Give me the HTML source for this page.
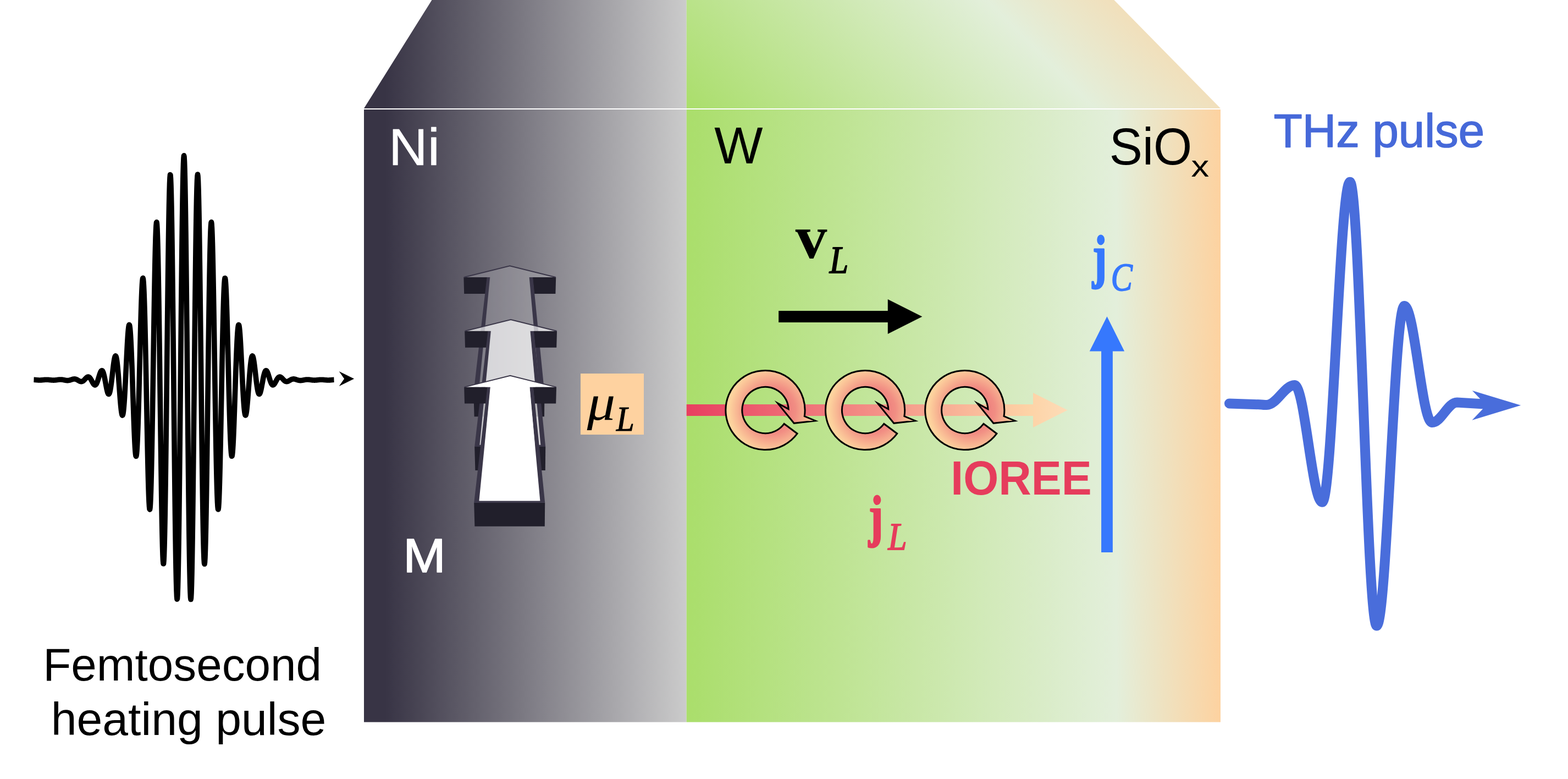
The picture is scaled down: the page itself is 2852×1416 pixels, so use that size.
<!DOCTYPE html>
<html lang="en">
<head>
<meta charset="utf-8">
<title>Femtosecond heating pulse to THz pulse schematic</title>
<style>
html,body{margin:0;padding:0;background:#fff;}
body{width:2852px;height:1416px;}
svg{display:block;}
text{white-space:pre;}
.sans{font-family:"Liberation Sans",sans-serif;}
.serif{font-family:"Liberation Serif",serif;}
</style>
</head>
<body>
<svg width="2852" height="1416" viewBox="0 0 2852 1416">
<defs>
<linearGradient id="gNi" gradientUnits="userSpaceOnUse" x1="662" y1="0" x2="1248.7" y2="0">
<stop offset="0" stop-color="#383445"/>
<stop offset="0.065" stop-color="#383445"/>
<stop offset="1" stop-color="#cbcbcb"/>
</linearGradient>
<linearGradient id="gW" gradientUnits="userSpaceOnUse" x1="1248.7" y1="0" x2="2220" y2="0">
<stop offset="0" stop-color="#aade6b"/>
<stop offset="0.805" stop-color="#e3efdb"/>
<stop offset="1" stop-color="#fdd2a0"/>
</linearGradient>
<linearGradient id="gWtop" gradientUnits="userSpaceOnUse" x1="1248.7" y1="197" x2="1832.8" y2="-387.1">
<stop offset="0" stop-color="#aade6b"/>
<stop offset="0.636" stop-color="#e3efdb"/>
<stop offset="1" stop-color="#fdd2a0"/>
</linearGradient>
<linearGradient id="gJL" gradientUnits="userSpaceOnUse" x1="1248.7" y1="0" x2="1941" y2="0">
<stop offset="0" stop-color="#e83e60"/>
<stop offset="0.9" stop-color="#fdd3a6"/>
<stop offset="1" stop-color="#fddcb8"/>
</linearGradient>
<radialGradient id="gRing" gradientUnits="userSpaceOnUse" cx="12" cy="0" r="78">
<stop offset="0" stop-color="#ea6a76"/>
<stop offset="0.55" stop-color="#f18d83"/>
<stop offset="1" stop-color="#fdd49e"/>
</radialGradient>
</defs>
<rect x="0" y="0" width="2852" height="1416" fill="#ffffff"/>

<g id="box">
<polygon points="785.5,0 1248.7,0 1248.7,197 662,197" fill="url(#gNi)"/>
<polygon points="1248.7,0 2026.3,0 2220,197 1248.7,197" fill="url(#gWtop)"/>
<rect x="662" y="197" width="586.7" height="1115.6" fill="url(#gNi)"/>
<rect x="1248.7" y="197" width="971.3" height="1115.6" fill="url(#gW)"/>
<rect x="662" y="197" width="1558" height="2" fill="#ffffff"/>
</g>
<g id="fs-pulse">
<path d="M61.5,690.28 L62,690.3 L62.5,690.33 L63,690.36 L63.5,690.4 L64,690.44 L64.5,690.48 L65,690.52 L65.5,690.57 L66,690.61 L66.5,690.66 L67,690.7 L67.5,690.75 L68,690.79 L68.5,690.83 L69,690.86 L69.5,690.89 L70,690.92 L70.5,690.94 L71,690.96 L71.5,690.97 L72,690.97 L72.5,690.97 L73,690.96 L73.5,690.95 L74,690.93 L74.5,690.91 L75,690.88 L75.5,690.85 L76,690.81 L76.5,690.77 L77,690.73 L77.5,690.68 L78,690.63 L78.5,690.59 L79,690.54 L79.5,690.49 L80,690.44 L80.5,690.4 L81,690.36 L81.5,690.32 L82,690.29 L82.5,690.26 L83,690.23 L83.5,690.21 L84,690.2 L84.5,690.19 L85,690.19 L85.5,690.2 L86,690.21 L86.5,690.23 L87,690.26 L87.5,690.29 L88,690.32 L88.5,690.36 L89,690.41 L89.5,690.46 L90,690.51 L90.5,690.56 L91,690.62 L91.5,690.67 L92,690.73 L92.5,690.78 L93,690.83 L93.5,690.88 L94,690.92 L94.5,690.97 L95,691 L95.5,691.03 L96,691.05 L96.5,691.07 L97,691.08 L97.5,691.08 L98,691.08 L98.5,691.06 L99,691.04 L99.5,691.02 L100,690.98 L100.5,690.94 L101,690.89 L101.5,690.84 L102,690.78 L102.5,690.71 L103,690.65 L103.5,690.58 L104,690.51 L104.5,690.44 L105,690.37 L105.5,690.3 L106,690.24 L106.5,690.18 L107,690.12 L107.5,690.07 L108,690.03 L108.5,690 L109,689.97 L109.5,689.95 L110,689.95 L110.5,689.95 L111,689.97 L111.5,689.99 L112,690.03 L112.5,690.07 L113,690.13 L113.5,690.19 L114,690.27 L114.5,690.35 L115,690.44 L115.5,690.53 L116,690.63 L116.5,690.73 L117,690.83 L117.5,690.94 L118,691.04 L118.5,691.14 L119,691.23 L119.5,691.31 L120,691.39 L120.5,691.46 L121,691.52 L121.5,691.56 L122,691.59 L122.5,691.6 L123,691.6 L123.5,691.58 L124,691.55 L124.5,691.5 L125,691.43 L125.5,691.35 L126,691.25 L126.5,691.13 L127,691 L127.5,690.86 L128,690.71 L128.5,690.55 L129,690.38 L129.5,690.21 L130,690.04 L130.5,689.87 L131,689.71 L131.5,689.55 L132,689.4 L132.5,689.27 L133,689.15 L133.5,689.05 L134,688.97 L134.5,688.92 L135,688.89 L135.5,688.88 L136,688.91 L136.5,688.96 L137,689.05 L137.5,689.16 L138,689.3 L138.5,689.47 L139,689.67 L139.5,689.89 L140,690.13 L140.5,690.39 L141,690.67 L141.5,690.96 L142,691.26 L142.5,691.56 L143,691.85 L143.5,692.14 L144,692.42 L144.5,692.68 L145,692.92 L145.5,693.13 L146,693.31 L146.5,693.45 L147,693.55 L147.5,693.6 L148,693.61 L148.5,693.57 L149,693.47 L149.5,693.32 L150,693.12 L150.5,692.86 L151,692.55 L151.5,692.2 L152,691.8 L152.5,691.36 L153,690.89 L153.5,690.39 L154,689.86 L154.5,689.33 L155,688.78 L155.5,688.24 L156,687.72 L156.5,687.21 L157,686.74 L157.5,686.3 L158,685.92 L158.5,685.59 L159,685.34 L159.5,685.15 L160,685.05 L160.5,685.03 L161,685.1 L161.5,685.27 L162,685.53 L162.5,685.88 L163,686.33 L163.5,686.87 L164,687.49 L164.5,688.19 L165,688.96 L165.5,689.79 L166,690.67 L166.5,691.59 L167,692.53 L167.5,693.48 L168,694.42 L168.5,695.33 L169,696.2 L169.5,697.02 L170,697.76 L170.5,698.42 L171,698.96 L171.5,699.39 L172,699.69 L172.5,699.84 L173,699.84 L173.5,699.68 L174,699.36 L174.5,698.87 L175,698.22 L175.5,697.4 L176,696.43 L176.5,695.31 L177,694.06 L177.5,692.68 L178,691.21 L178.5,689.65 L179,688.03 L179.5,686.38 L180,684.71 L180.5,683.07 L181,681.47 L181.5,679.94 L182,678.52 L182.5,677.22 L183,676.09 L183.5,675.13 L184,674.39 L184.5,673.87 L185,673.59 L185.5,673.58 L186,673.83 L186.5,674.37 L187,675.18 L187.5,676.28 L188,677.64 L188.5,679.26 L189,681.13 L189.5,683.22 L190,685.5 L190.5,687.95 L191,690.52 L191.5,693.2 L192,695.92 L192.5,698.65 L193,701.34 L193.5,703.95 L194,706.43 L194.5,708.73 L195,710.8 L195.5,712.61 L196,714.11 L196.5,715.27 L197,716.05 L197.5,716.42 L198,716.36 L198.5,715.86 L199,714.91 L199.5,713.5 L200,711.64 L200.5,709.35 L201,706.64 L201.5,703.55 L202,700.11 L202.5,696.36 L203,692.36 L203.5,688.17 L204,683.84 L204.5,679.44 L205,675.04 L205.5,670.72 L206,666.55 L206.5,662.6 L207,658.95 L207.5,655.67 L208,652.82 L208.5,650.48 L209,648.69 L209.5,647.5 L210,646.96 L210.5,647.11 L211,647.95 L211.5,649.5 L212,651.76 L212.5,654.72 L213,658.36 L213.5,662.62 L214,667.48 L214.5,672.86 L215,678.7 L215.5,684.92 L216,691.42 L216.5,698.12 L217,704.91 L217.5,711.69 L218,718.34 L218.5,724.77 L219,730.84 L219.5,736.46 L220,741.51 L220.5,745.9 L221,749.52 L221.5,752.29 L222,754.13 L222.5,754.98 L223,754.79 L223.5,753.53 L224,751.17 L224.5,747.72 L225,743.19 L225.5,737.62 L226,731.07 L226.5,723.6 L227,715.32 L227.5,706.32 L228,696.73 L228.5,686.69 L229,676.35 L229.5,665.88 L230,655.44 L230.5,645.21 L231,635.37 L231.5,626.09 L232,617.55 L232.5,609.91 L233,603.34 L233.5,597.98 L234,593.96 L234.5,591.38 L235,590.35 L235.5,590.91 L236,593.13 L236.5,596.99 L237,602.5 L237.5,609.61 L238,618.25 L238.5,628.31 L239,639.66 L239.5,652.16 L240,665.62 L240.5,679.83 L241,694.6 L241.5,709.68 L242,724.85 L242.5,739.86 L243,754.46 L243.5,768.39 L244,781.42 L244.5,793.3 L245,803.82 L245.5,812.77 L246,819.96 L246.5,825.23 L247,828.45 L247.5,829.51 L248,828.34 L248.5,824.91 L249,819.21 L249.5,811.29 L250,801.23 L250.5,789.12 L251,775.13 L251.5,759.43 L252,742.24 L252.5,723.81 L253,704.41 L253.5,684.33 L254,663.88 L254.5,643.39 L255,623.19 L255.5,603.62 L256,585.01 L256.5,567.68 L257,551.95 L257.5,538.11 L258,526.42 L258.5,517.12 L259,510.41 L259.5,506.46 L260,505.39 L260.5,507.29 L261,512.18 L261.5,520.04 L262,530.81 L262.5,544.38 L263,560.58 L263.5,579.2 L264,599.99 L264.5,622.66 L265,646.87 L265.5,672.27 L266,698.46 L266.5,725.03 L267,751.56 L267.5,777.62 L268,802.78 L268.5,826.61 L269,848.7 L269.5,868.66 L270,886.13 L270.5,900.78 L271,912.32 L271.5,920.5 L272,925.14 L272.5,926.09 L273,923.28 L273.5,916.68 L274,906.34 L274.5,892.36 L275,874.9 L275.5,854.18 L276,830.5 L276.5,804.17 L277,775.59 L277.5,745.17 L278,713.39 L278.5,680.73 L279,647.7 L279.5,614.84 L280,582.68 L280.5,551.75 L281,522.57 L281.5,495.64 L282,471.42 L282.5,450.35 L283,432.81 L283.5,419.14 L284,409.62 L284.5,404.46 L285,403.81 L285.5,407.73 L286,416.24 L286.5,429.25 L287,446.62 L287.5,468.13 L288,493.48 L288.5,522.32 L289,554.22 L289.5,588.72 L290,625.29 L290.5,663.37 L291,702.35 L291.5,741.64 L292,780.58 L292.5,818.56 L293,854.96 L293.5,889.15 L294,920.58 L294.5,948.69 L295,973.01 L295.5,993.09 L296,1008.57 L296.5,1019.14 L297,1024.59 L297.5,1024.76 L298,1019.61 L298.5,1009.15 L299,993.51 L299.5,972.88 L300,947.55 L300.5,917.87 L301,884.28 L301.5,847.28 L302,807.44 L302.5,765.37 L303,721.72 L303.5,677.19 L304,632.48 L304.5,588.3 L305,545.38 L305.5,504.42 L306,466.07 L306.5,431 L307,399.77 L307.5,372.93 L308,350.95 L308.5,334.2 L309,322.99 L309.5,317.56 L310,318.02 L310.5,324.41 L311,336.67 L311.5,354.65 L312,378.08 L312.5,406.63 L313,439.87 L313.5,477.31 L314,518.36 L314.5,562.38 L315,608.7 L315.5,656.57 L316,705.24 L316.5,753.93 L317,801.87 L317.5,848.28 L318,892.41 L318.5,933.54 L319,971 L319.5,1004.18 L320,1032.51 L320.5,1055.53 L321,1072.85 L321.5,1084.17 L322,1089.29 L322.5,1088.09 L323,1080.59 L323.5,1066.86 L324,1047.13 L324.5,1021.68 L325,990.9 L325.5,955.28 L326,915.36 L326.5,871.79 L327,825.24 L327.5,776.45 L328,726.21 L328.5,675.31 L329,624.56 L329.5,574.78 L330,526.76 L330.5,481.28 L331,439.07 L331.5,400.79 L332,367.08 L332.5,338.47 L333,315.42 L333.5,298.3 L334,287.4 L334.5,282.88 L335,284.82 L335.5,293.18 L336,307.84 L336.5,328.56 L337,355 L337.5,386.73 L338,423.25 L338.5,463.97 L339,508.23 L339.5,555.32 L340,604.49 L340.5,654.95 L341,705.88 L341.5,756.49 L342,805.95 L342.5,853.48 L343,898.34 L343.5,939.79 L344,977.2 L344.5,1009.98 L345,1037.61 L345.5,1059.68 L346,1075.83 L346.5,1085.84 L347,1089.57 L347.5,1086.97 L348,1078.12 L348.5,1063.17 L349,1042.38 L349.5,1016.12 L350,984.82 L350.5,949 L351,909.26 L351.5,866.25 L352,820.66 L352.5,773.24 L353,724.76 L353.5,675.98 L354,627.7 L354.5,580.67 L355,535.65 L355.5,493.33 L356,454.38 L356.5,419.39 L357,388.91 L357.5,363.38 L358,343.19 L358.5,328.62 L359,319.87 L359.5,317.03 L360,320.12 L360.5,329.04 L361,343.6 L361.5,363.53 L362,388.48 L362.5,418.01 L363,451.62 L363.5,488.73 L364,528.72 L364.5,570.95 L365,614.7 L365.5,659.29 L366,703.98 L366.5,748.06 L367,790.84 L367.5,831.65 L368,869.86 L368.5,904.87 L369,936.17 L369.5,963.29 L370,985.84 L370.5,1003.51 L371,1016.06 L371.5,1023.34 L372,1025.29 L372.5,1021.94 L373,1013.4 L373.5,999.85 L374,981.57 L374.5,958.9 L375,932.25 L375.5,902.09 L376,868.93 L376.5,833.35 L377,795.93 L377.5,757.29 L378,718.07 L378.5,678.89 L379,640.37 L379.5,603.13 L380,567.74 L380.5,534.74 L381,504.62 L381.5,477.82 L382,454.74 L382.5,435.69 L383,420.91 L383.5,410.59 L384,404.83 L384.5,403.65 L385,407.03 L385.5,414.82 L386,426.86 L386.5,442.89 L387,462.59 L387.5,485.6 L388,511.5 L388.5,539.84 L389,570.13 L389.5,601.87 L390,634.51 L390.5,667.53 L391,700.4 L391.5,732.6 L392,763.61 L392.5,792.98 L393,820.26 L393.5,845.05 L394,866.99 L394.5,885.78 L395,901.18 L395.5,912.99 L396,921.1 L396.5,925.42 L397,925.97 L397.5,922.79 L398,916.01 L398.5,905.79 L399,892.35 L399.5,875.97 L400,856.96 L400.5,835.68 L401,812.49 L401.5,787.82 L402,762.06 L402.5,735.67 L403,709.06 L403.5,682.67 L404,656.91 L404.5,632.18 L405,608.85 L405.5,587.27 L406,567.75 L406.5,550.55 L407,535.91 L407.5,524 L408,514.97 L408.5,508.89 L409,505.79 L409.5,505.68 L410,508.49 L410.5,514.11 L411,522.4 L411.5,533.16 L412,546.17 L412.5,561.18 L413,577.91 L413.5,596.04 L414,615.27 L414.5,635.26 L415,655.67 L415.5,676.17 L416,696.44 L416.5,716.15 L417,735 L417.5,752.72 L418,769.04 L418.5,783.74 L419,796.62 L419.5,807.52 L420,816.31 L420.5,822.9 L421,827.24 L421.5,829.31 L422,829.14 L422.5,826.77 L423,822.31 L423.5,815.87 L424,807.6 L424.5,797.69 L425,786.32 L425.5,773.72 L426,760.12 L426.5,745.76 L427,730.89 L427.5,715.76 L428,700.61 L428.5,685.69 L429,671.22 L429.5,657.44 L430,644.53 L430.5,632.7 L431,622.11 L431.5,612.89 L432,605.16 L432.5,599 L433,594.47 L433.5,591.6 L434,590.38 L434.5,590.78 L435,592.75 L435.5,596.21 L436,601.05 L436.5,607.15 L437,614.38 L437.5,622.58 L438,631.58 L438.5,641.22 L439,651.32 L439.5,661.69 L440,672.17 L440.5,682.58 L441,692.76 L441.5,702.54 L442,711.79 L442.5,720.38 L443,728.19 L443.5,735.11 L444,741.08 L444.5,746.03 L445,749.92 L445.5,752.71 L446,754.42 L446.5,755.03 L447,754.59 L447.5,753.14 L448,750.73 L448.5,747.44 L449,743.35 L449.5,738.56 L450,733.15 L450.5,727.25 L451,720.95 L451.5,714.37 L452,707.63 L452.5,700.83 L453,694.08 L453.5,687.49 L454,681.15 L454.5,675.15 L455,669.57 L455.5,664.5 L456,659.99 L456.5,656.1 L457,652.86 L457.5,650.32 L458,648.48 L458.5,647.36 L459,646.94 L459.5,647.21 L460,648.14 L460.5,649.69 L461,651.82 L461.5,654.47 L462,657.59 L462.5,661.1 L463,664.94 L463.5,669.03 L464,673.3 L464.5,677.67 L465,682.08 L465.5,686.45 L466,690.71 L466.5,694.79 L467,698.64 L467.5,702.21 L468,705.45 L468.5,708.31 L469,710.78 L469.5,712.81 L470,714.4 L470.5,715.54 L471,716.22 L471.5,716.45 L472,716.25 L472.5,715.63 L473,714.62 L473.5,713.25 L474,711.56 L474.5,709.59 L475,707.37 L475.5,704.96 L476,702.4 L476.5,699.73 L477,697.01 L477.5,694.28 L478,691.58 L478.5,688.96 L479,686.46 L479.5,684.11 L480,681.94 L480.5,679.98 L481,678.26 L481.5,676.79 L482,675.59 L482.5,674.66 L483,674.01 L483.5,673.65 L484,673.55 L484.5,673.73 L485,674.15 L485.5,674.81 L486,675.68 L486.5,676.75 L487,677.98 L487.5,679.36 L488,680.85 L488.5,682.42 L489,684.05 L489.5,685.71 L490,687.37 L490.5,689.01 L491,690.59 L491.5,692.1 L492,693.52 L492.5,694.82 L493,696 L493.5,697.03 L494,697.91 L494.5,698.63 L495,699.19 L495.5,699.57 L496,699.8 L496.5,699.86 L497,699.77 L497.5,699.53 L498,699.15 L498.5,698.65 L499,698.04 L499.5,697.33 L500,696.54 L500.5,695.69 L501,694.78 L501.5,693.85 L502,692.91 L502.5,691.96 L503,691.04 L503.5,690.14 L504,689.29 L504.5,688.49 L505,687.76 L505.5,687.11 L506,686.53 L506.5,686.05 L507,685.66 L507.5,685.36 L508,685.16 L508.5,685.05 L509,685.03 L509.5,685.1 L510,685.25 L510.5,685.48 L511,685.78 L511.5,686.14 L512,686.56 L512.5,687.02 L513,687.51 L513.5,688.03 L514,688.57 L514.5,689.11 L515,689.65 L515.5,690.18 L516,690.69 L516.5,691.18 L517,691.63 L517.5,692.05 L518,692.42 L518.5,692.74 L519,693.02 L519.5,693.24 L520,693.42 L520.5,693.53 L521,693.6 L521.5,693.61 L522,693.58 L522.5,693.5 L523,693.37 L523.5,693.21 L524,693.01 L524.5,692.78 L525,692.53 L525.5,692.26 L526,691.97 L526.5,691.68 L527,691.38 L527.5,691.08 L528,690.79 L528.5,690.5 L529,690.23 L529.5,689.98 L530,689.75 L530.5,689.55 L531,689.37 L531.5,689.21 L532,689.09 L532.5,688.99 L533,688.93 L533.5,688.89 L534,688.88 L534.5,688.9 L535,688.95 L535.5,689.02 L536,689.11 L536.5,689.22 L537,689.35 L537.5,689.49 L538,689.65 L538.5,689.81 L539,689.97 L539.5,690.15 L540,690.32 L540.5,690.48 L541,690.65 L541.5,690.8 L542,690.95 L542.5,691.08 L543,691.2 L543.5,691.31 L544,691.4 L544.5,691.47 L545,691.53 L545.5,691.57 L546,691.6 L546.5,691.61 L547,691.6 L547.5,691.57 L548,691.53 L548.5,691.48 L549,691.42 L549.5,691.35 L550,691.26 L550.5,691.17 L551,691.08 L551.5,690.98 L552,690.88 L552.5,690.77 L553,690.67 L553.5,690.57 L554,690.47 L554.5,690.38 L555,690.3 L555.5,690.22 L556,690.15 L556.5,690.09 L557,690.04 L557.5,690 L558,689.97 L558.5,689.96 L559,689.95 L559.5,689.95 L560,689.96 L560.5,689.99 L561,690.02 L561.5,690.06 L562,690.1 L562.5,690.15 L563,690.21 L563.5,690.28 L564,690.34 L564.5,690.41 L565,690.48 L565.5,690.55 L566,690.62 L566.5,690.69 L567,690.75 L567.5,690.81 L568,690.87 L568.5,690.92 L569,690.96 L569.5,691 L570,691.03 L570.5,691.06 L571,691.07 L571.5,691.08 L572,691.08 L572.5,691.08 L573,691.06 L573.5,691.04 L574,691.01 L574.5,690.98 L575,690.94 L575.5,690.9 L576,690.85 L576.5,690.8 L577,690.75 L577.5,690.69 L578,690.64 L578.5,690.58 L579,690.53 L579.5,690.48 L580,690.43 L580.5,690.38 L581,690.34 L581.5,690.3 L582,690.27 L582.5,690.24 L583,690.22 L583.5,690.21 L584,690.2 L584.5,690.19 L585,690.2 L585.5,690.21 L586,690.22 L586.5,690.25 L587,690.27 L587.5,690.31 L588,690.34 L588.5,690.38 L589,690.42 L589.5,690.47 L590,690.52 L590.5,690.57 L591,690.61 L591.5,690.66 L592,690.71 L592.5,690.75 L593,690.8 L593.5,690.83 L594,690.87 L594.5,690.9 L595,690.93 L595.5,690.95 L596,690.96 L596.5,690.97 L597,690.97 L597.5,690.97 L598,690.96 L598.5,690.95 L599,690.93 L599.5,690.9 L600,690.87 L600.5,690.84 L601,690.8 L601.5,690.76 L602,690.72 L602.5,690.68 L603,690.63 L603.5,690.59 L604,690.54 L604.5,690.5 L605,690.45 L605.5,690.41 L606,690.38 L606.5,690.34 L607,690.31 L607.5,690.29" fill="none" stroke="#000" stroke-width="9.6" stroke-linejoin="round" stroke-linecap="butt"/>
<polygon points="644.1,688.5 616.7,675 626.1,688.5 616.7,702" fill="#000"/>
</g>
<g id="arrows3d">
<g><polygon points="861.4,714.2 990.4,714.2 990,757.2 862.6,757.2" fill="#211f2b"/><polygon points="843.4,503.9 886.2,503.9 883.2,533.9 844.2,533.9" fill="#211f2b"/><polygon points="968.7,503.9 1011.2,503.9 1010.4,533.9 971.7,533.9" fill="#211f2b"/><polygon points="885.6,503.9 891.4,503.9 871.2,710.4 981,710.4 962.7,503.9 969.2,503.9 990.4,714.2 861.4,714.2" fill="#3a3648"/><polygon points="927.2,482.9 1011.2,503.9 962.6,503.9 981.6,711 870.6,711 891,503.9 843.4,503.9" fill="#ffffff" fill-opacity="0.17"/><polyline points="843.8,504 927.2,483.3 1010.8,504" fill="none" stroke="#3a3648" stroke-width="2" stroke-linejoin="miter"/></g>
<g><polygon points="863.2,812 992.2,812 991.8,855 864.4,855" fill="#211f2b"/><polygon points="845.2,601.7 888,601.7 885,631.7 846,631.7" fill="#211f2b"/><polygon points="970.5,601.7 1013,601.7 1012.2,631.7 973.5,631.7" fill="#211f2b"/><polygon points="887.4,601.7 893.2,601.7 873,808.2 982.8,808.2 964.5,601.7 971,601.7 992.2,812 863.2,812" fill="#3a3648"/><polygon points="929,580.7 1013,601.7 964.4,601.7 983.4,808.8 872.4,808.8 892.8,601.7 845.2,601.7" fill="#ffffff" fill-opacity="0.68"/><polyline points="845.6,601.8 929,581.1 1012.6,601.8" fill="none" stroke="#3a3648" stroke-width="2" stroke-linejoin="miter"/></g>
<g><polygon points="862.2,913.8 991.2,913.8 990.8,956.8 863.4,956.8" fill="#211f2b"/><polygon points="844.2,703.5 887,703.5 884,733.5 845,733.5" fill="#211f2b"/><polygon points="969.5,703.5 1012,703.5 1011.2,733.5 972.5,733.5" fill="#211f2b"/><polygon points="886.4,703.5 892.2,703.5 872,910 981.8,910 963.5,703.5 970,703.5 991.2,913.8 862.2,913.8" fill="#3a3648"/><polygon points="928,682.5 1012,703.5 963.4,703.5 982.4,910.6 871.4,910.6 891.8,703.5 844.2,703.5" fill="#ffffff" fill-opacity="1"/><polyline points="844.6,703.6 928,682.9 1011.6,703.6" fill="none" stroke="#3a3648" stroke-width="2" stroke-linejoin="miter"/></g>
</g>
<g id="muL">
<rect x="1056" y="679" width="115" height="111" fill="#fed2a0"/>
<text class="serif" transform="translate(1067.66,763.42) scale(1.1417,1)" font-size="90.04" font-style="italic" fill="#000">μ</text>
<text class="serif" transform="translate(1120.96,782.7) scale(0.9430,1)" font-size="62.33" font-style="italic" fill="#000" stroke="#000" stroke-width="1.2" stroke-linejoin="round">L</text>
</g>
<g id="vL">
<text class="serif" transform="translate(1446.85,469.03) scale(1.0187,1)" font-size="113.31" font-weight="bold" fill="#000">v</text>
<text class="serif" transform="translate(1508.73,495.95) scale(0.8993,1)" font-size="68.85" font-style="italic" fill="#000" stroke="#000" stroke-width="1.8" stroke-linejoin="round">L</text>
<polygon points="1416.2,565.1 1614.8,565.1 1614.8,544 1677.4,575.5 1614.8,607 1614.8,586 1416.2,586" fill="#000"/>
</g>
<g id="jL-arrow">
<polygon points="1248.7,735.1 1879,735.1 1879,714.1 1941.7,745.55 1879,777 1879,756 1248.7,756" fill="url(#gJL)"/>
<path transform="translate(1392,745.5)" d="M34.14,24.8 L58.11,42.68 A72.1,72.1 0 1 1 71.25,11.03 L91.1,19.4 L52.2,23.8 L22.6,-12.5 L42.16,-1.91 A42.2,42.2 0 1 0 34.14,24.8 Z" fill="url(#gRing)" stroke="#000" stroke-width="3" stroke-linejoin="miter" stroke-miterlimit="30"/>
<path transform="translate(1573.6,745.5)" d="M34.14,24.8 L58.11,42.68 A72.1,72.1 0 1 1 71.25,11.03 L91.1,19.4 L52.2,23.8 L22.6,-12.5 L42.16,-1.91 A42.2,42.2 0 1 0 34.14,24.8 Z" fill="url(#gRing)" stroke="#000" stroke-width="3" stroke-linejoin="miter" stroke-miterlimit="30"/>
<path transform="translate(1754.8,745.5)" d="M34.14,24.8 L58.11,42.68 A72.1,72.1 0 1 1 71.25,11.03 L91.1,19.4 L52.2,23.8 L22.6,-12.5 L42.16,-1.91 A42.2,42.2 0 1 0 34.14,24.8 Z" fill="url(#gRing)" stroke="#000" stroke-width="3" stroke-linejoin="miter" stroke-miterlimit="30"/>
</g>
<g id="labels">
<text class="sans" transform="translate(1729.34,898.73) scale(0.9555,1)" font-size="86.26" font-weight="bold" fill="#e63c5c">IOREE</text>
<text class="serif" transform="translate(1579.9,973.11) scale(0.7614,1)" font-size="103.28" font-weight="bold" fill="#e63c5c" stroke="#e63c5c" stroke-width="3" stroke-linejoin="round">j</text>
<text class="serif" transform="translate(1615.17,998.5) scale(0.8955,1)" font-size="68.94" font-style="italic" fill="#e63c5c" stroke="#e63c5c" stroke-width="1.8" stroke-linejoin="round">L</text>
<text class="serif" transform="translate(1987.12,501.9) scale(0.7450,1)" font-size="104.97" font-weight="bold" fill="#3678fd" stroke="#3678fd" stroke-width="3" stroke-linejoin="round">j</text>
<text class="serif" transform="translate(2020.86,527.88) scale(0.8250,1)" font-size="70.94" font-style="italic" fill="#3678fd" stroke="#3678fd" stroke-width="1.8" stroke-linejoin="round">C</text>
<polygon points="2003.1,1004.1 2003.1,638.6 1981.8,638.6 2013.5,575.2 2045.2,638.6 2023.9,638.6 2023.9,1004.1" fill="#3678fd"/>
<text class="sans" transform="translate(707.1,300.3) scale(1.0366,1)" font-size="94.6" fill="#ffffff" stroke="#ffffff" stroke-width="0.6" stroke-linejoin="round">Ni</text>
<text class="sans" transform="translate(733.18,1040.1) scale(1.0794,1)" font-size="86.25" fill="#ffffff" stroke="#ffffff" stroke-width="1.6" stroke-linejoin="round">M</text>
<text class="sans" transform="translate(1299.33,296.6) scale(0.9986,1)" font-size="93.7" fill="#000">W</text>
<text class="sans" transform="translate(2017.75,299.3) scale(0.9582,1)" font-size="94.2" fill="#000">SiO</text>
<text class="sans" transform="translate(2166.57,320.7) scale(1.2009,1)" font-size="54.59" fill="#000">x</text>
<text class="sans" transform="translate(2316.87,267) scale(1.0074,1)" font-size="84.5" fill="#4669d9" stroke="#4669d9" stroke-width="1.6" stroke-linejoin="round">THz pulse</text>
<text class="sans" transform="translate(78.2,1236.8) scale(1.0144,1)" font-size="82.5" fill="#000">Femtosecond</text>
<text class="sans" transform="translate(92.67,1336) scale(1.0205,1)" font-size="82.5" fill="#000">heating pulse</text>
</g>
<g id="thz-pulse">
<path d="M2236,733.4 L2290,735.2 C2297,735.8 2300,736 2304,736 C2322.46,736 2336.24,700 2354.7,700 C2373.02,700 2386.68,912.7 2405,912.7 C2423.36,912.7 2437.04,330.8 2455.4,330.8 C2473.1,330.8 2486.3,1137.5 2504,1137.5 C2522.32,1137.5 2535.98,556 2554.3,556 C2572.66,556 2586.34,768 2604.7,768 C2621.2,768 2633.5,731.5 2650,731.5 L2700,734.5" fill="none" stroke="#496ddb" stroke-width="18" stroke-linejoin="round" stroke-linecap="round"/>
<polygon points="2766.2,736.7 2677.9,710 2703.4,736.7 2677.5,763.8" fill="#496ddb"/>
</g>
</svg>
</body>
</html>
